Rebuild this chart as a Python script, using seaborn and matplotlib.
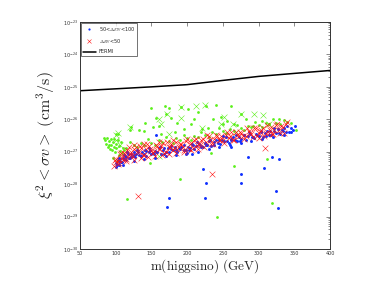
import numpy as np
import pandas as pd
import matplotlib
matplotlib.use("Agg")
import matplotlib.pyplot as plt
from matplotlib.lines import Line2D
from matplotlib.ticker import LogLocator, NullFormatter
import seaborn as sns

# FERMI limit (GeV, cm^3/s)
fermi_x = [50, 100, 150, 200, 250, 300, 350, 400]
fermi_y = [7.6e-26, 8.7e-26, 1.0e-25, 1.17e-25, 1.58e-25, 2.1e-25, 2.6e-25, 3.2e-25]

# 50 < Delta_EW < 100  (mass in GeV, log10 of xi^2 <sigma v>)
blue_x = [100, 101, 102, 103, 104, 105, 106, 107, 108, 110, 111, 112, 114, 115, 117, 118,
          120, 122, 124, 125, 127, 129, 131, 133, 135, 137, 139, 141, 143, 146, 148, 150,
          153, 155, 158, 160, 163, 166, 168, 171, 174, 177, 180, 183, 186, 189, 192, 195,
          198, 201, 204, 207, 210, 213, 216, 219, 222, 225, 228, 231, 234, 237, 240, 243,
          246, 249, 252, 255, 258, 261, 264, 267, 270, 273, 276, 279, 282, 285, 288, 291,
          294, 297, 300, 303, 306, 309, 312, 315, 318, 321, 324, 327, 330, 333, 336, 339,
          342, 345, 348, 351,
          102, 105, 109, 113, 116, 121, 126, 130, 136, 142, 147, 152, 157, 162, 167, 173,
          178, 184, 190, 196, 202, 208, 214, 220, 226, 232, 238, 244, 250, 256, 262, 268,
          274, 280, 286, 292, 298, 304, 310, 316, 322, 328, 334, 340, 346,
          110, 125, 140, 155, 170, 185, 200, 215, 230, 245, 260, 275, 290, 305, 320, 335,
          156, 261, 285, 307, 319, 328, 222, 276, 276, 226, 325, 174, 225, 172, 327, 198, 207]
blue_logy = [-27.48, -27.36, -27.40, -27.27, -27.42, -27.30, -27.23, -27.32, -27.32, -27.18,
             -27.23, -27.11, -27.26, -27.15, -27.08, -27.18, -27.18, -27.07, -27.13, -27.01,
             -27.17, -27.07, -27.01, -27.11, -27.13, -27.02, -27.07, -26.96, -27.12, -27.01,
             -26.96, -27.06, -27.07, -26.97, -27.02, -26.90, -27.07, -26.96, -26.90, -27.01,
             -27.02, -26.91, -26.96, -26.84, -27.01, -26.90, -26.84, -26.94, -26.96, -26.85,
             -26.89, -26.77, -26.93, -26.82, -26.75, -26.85, -26.85, -26.74, -26.79, -26.66,
             -26.82, -26.71, -26.64, -26.74, -26.75, -26.63, -26.68, -26.56, -26.72, -26.61,
             -26.55, -26.65, -26.66, -26.55, -26.60, -26.48, -26.63, -26.52, -26.46, -26.56,
             -26.57, -26.46, -26.51, -26.39, -26.55, -26.43, -26.37, -26.47, -26.48, -26.37,
             -26.42, -26.30, -26.46, -26.34, -26.28, -26.38, -26.39, -26.28, -26.33, -26.21,
             -27.38, -27.20, -27.32, -27.13, -27.02, -27.15, -27.10, -26.96, -27.14, -26.98,
             -26.89, -27.04, -27.00, -26.87, -27.06, -26.90, -26.81, -26.96, -26.92, -26.78,
             -26.96, -26.80, -26.69, -26.83, -26.78, -26.63, -26.80, -26.64, -26.53, -26.68,
             -26.63, -26.49, -26.67, -26.50, -26.40, -26.55, -26.50, -26.36, -26.53, -26.37,
             -26.27, -26.42, -26.36, -26.22, -26.40,
             -27.42, -27.28, -27.22, -27.18, -27.14, -27.10, -27.05, -27.00, -26.93, -26.86,
             -26.80, -26.74, -26.67, -26.60, -26.54, -26.48,
             -26.47, -26.85, -27.16, -27.49, -27.16, -27.24, -27.52, -27.70, -27.96, -27.96,
             -28.20, -28.44, -28.42, -28.70, -28.74, -27.08, -27.08]

# Delta_EW < 50
red_x = [98, 101, 104, 107, 110, 113, 116, 119, 122, 126, 130, 134, 138, 142, 146, 150,
         154, 158, 162, 166, 170, 174, 178, 182, 186, 190, 194, 198, 202, 206, 210, 214,
         218, 222, 226, 230, 234, 238, 242, 246, 250, 254, 258, 262, 266, 270, 274, 278,
         282, 286, 290, 294, 298, 302, 306, 310, 314, 318, 322, 326, 330, 334, 338,
         100, 103, 106, 109, 112, 115, 118, 121, 124, 128, 132, 136, 140, 144, 148, 152,
         156, 160, 164, 168, 172, 176, 180, 184, 188, 192, 196, 200, 204, 208, 212, 216,
         220, 224, 228, 232, 236, 240, 244, 248, 252, 256, 260, 264, 268, 272, 276, 280,
         284, 288, 292, 296, 300, 304, 308, 312, 316, 320, 324, 328, 332, 336, 340,
         105, 115, 125, 135, 145, 155, 165, 175, 185, 195, 205, 215, 125, 140, 160, 180,
         131, 235, 309, 301, 319, 99]
red_logy = [-27.44, -27.23, -27.27, -27.04, -27.25, -27.07, -26.96, -27.09, -27.09, -26.93,
            -27.01, -26.83, -27.09, -26.92, -26.83, -26.98, -26.99, -26.83, -26.92, -26.74,
            -27.00, -26.84, -26.75, -26.90, -26.91, -26.75, -26.84, -26.66, -26.91, -26.74,
            -26.65, -26.79, -26.80, -26.62, -26.71, -26.52, -26.77, -26.60, -26.51, -26.65,
            -26.65, -26.49, -26.57, -26.39, -26.64, -26.48, -26.39, -26.53, -26.53, -26.37,
            -26.45, -26.27, -26.53, -26.36, -26.27, -26.41, -26.42, -26.25, -26.34, -26.16,
            -26.41, -26.24, -26.14,
            -27.32, -27.38, -27.08, -27.18, -27.04, -27.23, -26.87, -27.02, -27.13, -26.87,
            -27.02, -26.90, -27.11, -26.77, -26.93, -27.03, -26.79, -26.93, -26.82, -27.03,
            -26.69, -26.85, -26.96, -26.71, -26.86, -26.75, -26.96, -26.62, -26.77, -26.88,
            -26.62, -26.76, -26.64, -26.85, -26.50, -26.65, -26.75, -26.49, -26.64, -26.52,
            -26.72, -26.38, -26.53, -26.64, -26.39, -26.53, -26.42, -26.62, -26.28, -26.43,
            -26.54, -26.28, -26.43, -26.32, -26.52, -26.17, -26.33, -26.44, -26.18, -26.33,
            -26.21, -26.41, -26.07,
            -27.35, -27.30, -27.25, -27.20, -27.15, -27.12, -27.10, -27.07, -27.03, -27.00,
            -26.95, -26.92, -26.80, -26.75, -26.70, -26.65,
            -28.36, -27.69, -26.90, -26.58, -26.44, -27.25]

# remaining points (green dots)
green_x = [105, 110, 115, 120, 125, 130, 135, 140, 145, 150, 155, 160, 165, 170, 175, 180,
           185, 190, 195, 200, 205, 210, 215, 220, 225, 230, 235, 240, 245, 250, 255, 260,
           265, 270, 275, 280, 285, 290, 295, 300, 305, 310, 315, 320, 325, 330, 335, 340,
           345, 352,
           83, 85, 86, 88, 89, 90, 91, 92, 93, 94, 95, 96, 97, 98, 99, 100, 101, 103, 104,
           106, 108, 109, 112, 96, 102,
           100, 103, 120, 121, 132, 141, 150, 157, 169, 171, 175, 178, 192, 201, 215, 227,
           241, 248, 250, 262, 266, 276, 315, 328, 152, 164, 183, 205, 221, 229, 186, 196,
           236, 256, 283, 292, 305, 140, 160, 210,
           116, 190, 242, 265, 312, 319, 234, 148]
green_logy = [-27.10, -26.88, -26.90, -26.70, -26.80, -26.86, -26.73, -26.78, -26.62, -26.72,
              -26.79, -26.65, -26.71, -26.55, -26.66, -26.72, -26.59, -26.65, -26.48, -26.59,
              -26.65, -26.51, -26.56, -26.38, -26.48, -26.54, -26.40, -26.44, -26.27, -26.37,
              -26.43, -26.29, -26.35, -26.18, -26.28, -26.34, -26.20, -26.25, -26.09, -26.19,
              -26.25, -26.11, -26.16, -26.00, -26.10, -26.16, -26.02, -26.07, -26.10, -26.33,
              -26.57, -26.65, -26.75, -26.57, -26.85, -26.68, -26.80, -26.92, -26.62, -26.78,
              -26.95, -26.70, -26.85, -26.60, -27.00, -26.75, -26.90, -26.65, -26.82, -26.98,
              -26.70, -27.05, -26.95, -27.20, -27.30,
              -26.46, -26.44, -26.34, -26.24, -26.32, -26.11, -25.65, -25.96, -25.60, -25.84,
              -25.65, -25.95, -25.62, -25.69, -25.76, -25.59, -25.56, -25.93, -26.16, -25.59,
              -26.13, -25.83, -26.13, -26.00, -26.24, -26.44, -26.39, -26.15, -26.29, -26.26,
              -26.10, -26.30, -26.00, -26.05, -26.00, -26.20, -26.05, -26.35, -26.20, -26.00,
              -28.47, -27.83, -29.00, -27.45, -27.23, -28.58, -27.03, -27.36]

# remaining points (green crosses)
greenx_x = [192, 225, 120, 101, 160, 163, 172, 192, 213, 221, 248, 251, 264, 276, 294, 306,
            315, 160, 106, 174, 269, 101, 103]
greenx_logy = [-25.62, -25.57, -26.24, -26.47, -25.98, -26.16, -25.85, -25.95, -25.60, -26.27,
               -26.13, -25.93, -26.13, -25.83, -25.85, -25.88, -26.13, -27.13, -26.80, -26.44,
               -26.39, -26.65, -26.42]

ytick_vals = [1e-30, 1e-29, 1e-28, 1e-27, 1e-26, 1e-25, 1e-24, 1e-23]
xtick_vals = [50, 100, 150, 200, 250, 300, 350, 400]

blue_df = pd.DataFrame({"m": blue_x, "sv": 10.0 ** np.array(blue_logy)})
red_df = pd.DataFrame({"m": red_x, "sv": 10.0 ** np.array(red_logy)})
green_df = pd.DataFrame({"m": green_x, "sv": 10.0 ** np.array(green_logy)})
greenx_df = pd.DataFrame({"m": greenx_x, "sv": 10.0 ** np.array(greenx_logy)})

sns.set_style("white")
plt.rcParams["mathtext.fontset"] = "cm"
plt.rcParams["font.family"] = ["DejaVu Sans"]

fig = plt.figure(figsize=(3.66, 2.81), dpi=100)
ax = fig.add_axes([0.2186, 0.1139, 0.683, 0.8078])

green = "#5cf01c"
blue = "#1030ff"
red = "#ff1010"
sns.scatterplot(data=green_df, x="m", y="sv", color=green, s=4, linewidth=0, ax=ax)
sns.scatterplot(data=greenx_df, x="m", y="sv", color=green, marker="x", s=18, linewidth=0.4, ax=ax)
sns.scatterplot(data=blue_df, x="m", y="sv", color=blue, s=4.5, linewidth=0, ax=ax)
sns.scatterplot(data=red_df, x="m", y="sv", color=red, marker="x", s=17, linewidth=0.4, ax=ax)
sns.lineplot(x=fermi_x, y=fermi_y, color="black", linewidth=1.1, ax=ax)

ax.set_yscale("log")
ax.set_xlim(50, 400)
ax.set_ylim(1e-30, 1e-23)
ax.set_xticks(xtick_vals)
ax.set_yticks(ytick_vals)
ax.yaxis.set_minor_locator(LogLocator(base=10, subs=np.arange(2, 10), numticks=20))
ax.yaxis.set_minor_formatter(NullFormatter())
ax.tick_params(axis="both", which="both", direction="in", top=True, right=True,
               labelsize=3.5, width=0.4, colors="#333333", pad=1.5)
ax.tick_params(axis="both", which="major", length=3)
ax.tick_params(axis="y", which="minor", length=1.5)
for sp in ax.spines.values():
    sp.set_linewidth(0.7)
    sp.set_color("#333333")

ax.set_xlabel(r"$\mathrm{m(higgsino)\ (GeV)}$", fontsize=9.5, labelpad=1)
ax.set_ylabel(r"$\xi^2 < \sigma v >\ (\mathrm{cm}^3/\mathrm{s})$", fontsize=11.5, labelpad=4)

handles = [
    Line2D([], [], linestyle="none", marker="o", markersize=1.6, color=blue, markeredgewidth=0),
    Line2D([], [], linestyle="none", marker="x", markersize=3.2, color=red, markeredgewidth=0.4),
    Line2D([], [], color="black", linewidth=1.1),
]
labels = [r"50<$\Delta_{EW}$<100", r"$\Delta_{EW}$<50", "FERMI"]
leg = ax.legend(handles, labels, loc="upper left", fontsize=3.6, frameon=True, fancybox=False,
                edgecolor="#333333", borderpad=0.4, handlelength=2.6, labelspacing=0.7,
                borderaxespad=0.15, handletextpad=0.6)
leg.get_frame().set_linewidth(0.6)

fig.savefig("out.png", dpi=100)
